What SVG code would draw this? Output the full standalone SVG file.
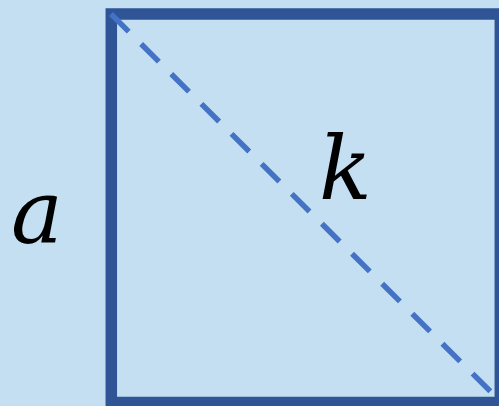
<svg xmlns="http://www.w3.org/2000/svg" width="499" height="406" viewBox="0 0 499 406">
<style>
.lbl{font-family:"DejaVu Serif","Liberation Serif",serif;font-style:italic;font-size:87px;fill:#000}
</style>
<rect x="0" y="0" width="499" height="406" fill="#C3DFF1"/>
<g id="square">
<rect x="111.3" y="14" width="389" height="388.5" fill="none" stroke="#2F5597" stroke-width="11.5"/>
</g>
<g id="connectors">
<line x1="111" y1="14" x2="492" y2="393" stroke="#4472C4" stroke-width="5.5" stroke-dasharray="25 17.5"/>
</g>
<g id="label-a"><text class="lbl" x="11" y="243">a</text></g>
<g id="label-k"><text class="lbl" x="319" y="199">k</text></g>
</svg>
